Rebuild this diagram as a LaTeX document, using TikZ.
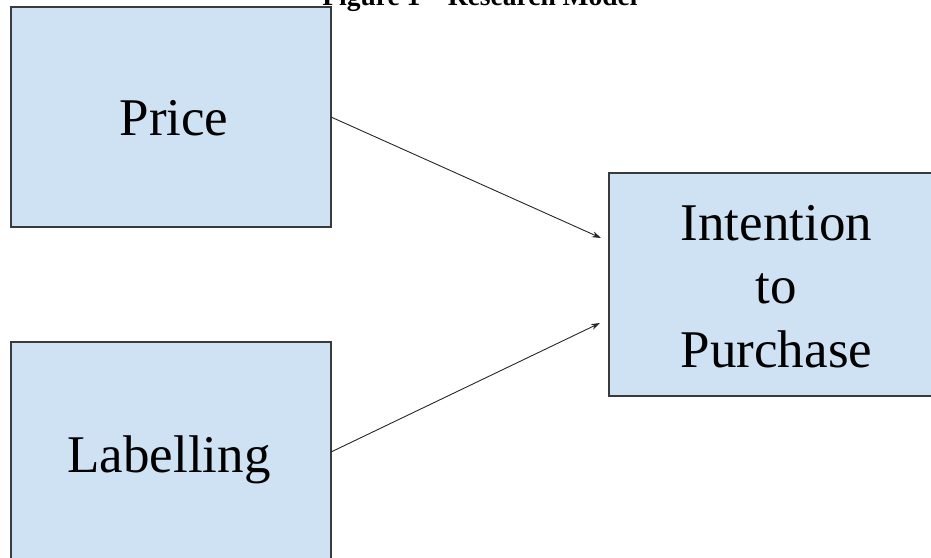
\documentclass[tikz,border=0pt]{standalone}
\usepackage{fontspec}
\setmainfont{Liberation Serif}
\usetikzlibrary{arrows.meta}
\definecolor{boxfill}{HTML}{CFE2F3}
\definecolor{boxline}{HTML}{3A3A3A}
\begin{document}
\begin{tikzpicture}[x=1pt,y=-1pt,
  varbox/.style={draw=boxline,line width=1.3pt,fill=boxfill},
  boxtext/.style={font=\fontsize{53}{63}\selectfont,align=center,inner sep=0pt},
  link/.style={draw=black!85,line width=0.9pt,-{Stealth[length=9pt,width=6pt]}}]
\useasboundingbox (0,0) rectangle (931,557);
\clip (0,0) rectangle (931,557);
% title (cut at top)
\node[font=\fontsize{27.5}{30}\selectfont\bfseries,anchor=base,inner sep=0pt] (title) at (480,5) {Figure 1 – Research Model};
% boxes
\draw[varbox] (11,7) rectangle (331,227);
\coordinate (priceE) at (331,117);
\draw[varbox] (11,342) rectangle (331,580);
\coordinate (labelE) at (331,452);
\draw[varbox] (609,173) rectangle (945,396);
\coordinate (intA) at (601,238);
\coordinate (intB) at (600,323);
% texts
\node[boxtext,anchor=base] (price) at (174,135) {Price};
\node[boxtext,anchor=base] (label) at (169,472) {Labelling};
\node[boxtext,anchor=base] (int1) at (776.5,240) {Intention};
\node[boxtext,anchor=base] (int2) at (776.5,303.5) {to};
\node[boxtext,anchor=base] (int3) at (776.5,367) {Purchase};
% connectors
\draw[link] (priceE) -- (intA);
\draw[link] (labelE) -- (intB);
\end{tikzpicture}
\end{document}
